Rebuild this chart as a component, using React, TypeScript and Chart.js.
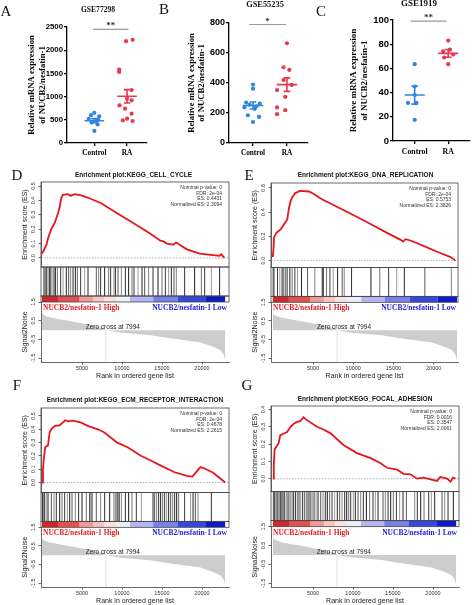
import React, { useEffect, useRef } from 'react';
import { Chart, registerables } from 'chart.js';

Chart.register(...registerables);

const SERIF = "'Liberation Serif', 'Times New Roman', serif";
const SANS = "'Liberation Sans', Arial, sans-serif";

// ================= Panels A–C : relative expression =================
const groups = ['Control', 'RA'];

const titleA = 'GSE77298';
const ctrlA = [650, 600, 575, 520, 505, 470, 440, 400, 260];
const ctrlAJit = [0, -0.1, 0.15, -0.17, 0.12, 0.05, -0.08, 0.1, 0];
const raA = [2225, 2195, 1580, 1530, 1140, 955, 920, 810, 740, 632, 524, 489, 474];
const raAJit = [0.17, -0.03, -0.24, -0.24, 0.14, 0, 0.14, -0.23, -0.06, 0.14, 0, -0.13, 0.17];
const meanA = [480, 1006];
const semA = [45, 144];
const yTicksA = [0, 500, 1000, 1500, 2000, 2500];
const sigA = '**';
const sigYA = 2450;
const sigSpanA = [0.96, 2.04];

const titleB = 'GSE55235';
const ctrlB = [390, 362, 270, 262, 255, 245, 238, 228, 185, 174, 140];
const ctrlBJit = [0, 0, -0.2, 0.2, -0.1, 0.1, -0.25, 0.05, -0.15, 0.18, 0];
const raB = [665, 505, 487, 420, 387, 353, 308, 237, 219, 192];
const raBJit = [0, -0.1, 0.07, -0.1, 0.14, -0.29, -0.05, -0.29, -0.05, -0.29];
const meanB = [250, 389];
const semB = [23, 45];
const yTicksB = [0, 200, 400, 600, 800];
const sigB = '*';
const sigYB = 790;
const sigSpanB = [0.89, 1.97];

const titleC = 'GSE1919';
const ctrlC = [63.5, 45, 38, 31.5, 31.5, 17.5];
const ctrlCJit = [0, 0, 0, -0.2, 0.05, 0];
const raC = [83, 75.5, 74, 71.5, 69, 63.5];
const raCJit = [0, 0.05, -0.15, 0.15, -0.12, 0];
const meanC = [38, 72.4];
const semC = [7.5, 3.2];
const yTicksC = [0, 20, 40, 60, 80, 100];
const sigC = '**';
const sigYC = 99;
const sigSpanC = [0.88, 1.94];

const yTitleLines = ['Relative mRNA expression', 'of NUCB2/nesfatin-1'];

// ================= Panels D–G : GSEA =================
const zeroCross = 7994;
const rankTicks = [5000, 10000, 15000, 20000];
const rankMetricTicks = [1.5, 0.5, -0.5, -1.5];
const rankMetricRange = [-1.7, 1.5];

// ranked list metric (Signal2Noise), shared by all four plots
const rankPos = [0, 200, 500, 1000, 2000, 3000, 4000, 5000, 6000, 7000, 7700, 7994, 10000, 13600, 15600, 17700, 19800, 21400, 22300, 22700, 22900];
const rankMetric = [0.9, 0.82, 0.75, 0.68, 0.6, 0.53, 0.45, 0.36, 0.28, 0.18, 0.1, 0, -0.14, -0.27, -0.41, -0.53, -0.66, -0.89, -1.07, -1.3, -1.6];

// colour bar of the ranked list
const barEdges = [0, 2000, 4700, 6400, 7800, 9300, 11000, 13900, 17000, 20500, 22900];
const barColors = ['#d0262c', '#e45050', '#f09a9a', '#f7c4c4', '#fbe2e2', '#eeeef8', '#b4b8f2', '#7880ea', '#3846e0', '#0c1cc8'];

const highLabel = 'NUCB2/nesfatin-1 High';
const lowLabel = 'NUCB2/nesfatin-1 Low';

const titleD = 'Enrichment plot:KEGG_CELL_CYCLE';
const esRankD = [0, 200, 550, 750, 1150, 1600, 2000, 2200, 2400, 2600, 3200, 3600, 4100, 4900, 5700, 7400, 9400, 11500, 13500, 14800, 15200, 15600, 16400, 16800, 17300, 18100, 19700, 21400, 22200, 22400, 22800];
const esD = [0.03, 0.05, 0.09, 0.135, 0.2, 0.245, 0.31, 0.35, 0.415, 0.438, 0.443, 0.433, 0.443, 0.435, 0.42, 0.38, 0.31, 0.24, 0.17, 0.12, 0.115, 0.1, 0.093, 0.107, 0.088, 0.06, 0.03, 0.019, 0.014, 0.026, 0.0];
const esTicksD = [0, 0.1, 0.2, 0.3, 0.4, 0.5];
const hitsD = [250, 420, 580, 750, 920, 1080, 1250, 1500, 1670, 1920, 2330, 2630, 3040, 3330, 3580, 3880, 4170, 4420, 4830, 5330, 5750, 6790, 7080, 7330, 7830, 8330, 8580, 9000, 9170, 9500, 9920, 10420, 10830, 11250, 11500, 12000, 12500, 12830, 13330, 13880, 14500, 15000, 15420, 15830, 16170, 16500, 16790, 17830, 19080, 19920, 20330, 21170, 22200];
const statsD = ['Nominal p-value: 0', 'FDR: 2e-04', 'ES: 0.4431', 'Normalized ES: 2.3094'];

const titleE = 'Enrichment plot:KEGG_DNA_REPLICATION';
const esRankE = [0, 100, 150, 450, 1000, 1400, 1800, 2000, 2200, 2400, 2800, 3400, 4500, 5100, 5900, 6300, 7600, 9700, 12200, 14200, 15900, 16200, 16500, 17100, 18800, 20500, 22100, 22700];
const esE = [0.03, 0.11, 0.19, 0.23, 0.26, 0.3, 0.34, 0.43, 0.49, 0.52, 0.557, 0.575, 0.57, 0.55, 0.514, 0.5, 0.457, 0.386, 0.3, 0.229, 0.171, 0.157, 0.177, 0.166, 0.12, 0.071, 0.029, 0.0];
const esTicksE = [0, 0.2, 0.4, 0.6];
const hitsE = [50, 170, 580, 870, 1160, 1370, 1580, 1780, 2120, 2410, 2740, 3070, 3570, 4320, 5230, 6140, 6270, 6680, 7100, 7510, 8050, 8630, 8880, 9790, 12200, 13300, 14400, 15400, 16350, 18900, 22200];
const statsE = ['Nominal p-value: 0', 'FDR: 2e-04', 'ES: 0.5753', 'Normalized ES: 2.3826'];

const titleF = 'Enrichment plot:KEGG_ECM_RECEPTOR_INTERACTION';
const esRankF = [0, 120, 250, 400, 750, 950, 1150, 1600, 2200, 2600, 2900, 3200, 3850, 4900, 5700, 7000, 7800, 9400, 10700, 12300, 13600, 14800, 16500, 18100, 18800, 19800, 20200, 21400, 22900];
const esF = [0.0, 0.1, 0.19, 0.265, 0.28, 0.376, 0.4, 0.426, 0.43, 0.45, 0.468, 0.46, 0.465, 0.45, 0.426, 0.4, 0.376, 0.3, 0.265, 0.203, 0.166, 0.129, 0.079, 0.05, 0.045, 0.116, 0.109, 0.074, 0.0];
const esTicksF = [0, 0.1, 0.2, 0.3, 0.4, 0.5];
const hitsF = [50, 170, 330, 540, 750, 1170, 1500, 1790, 2210, 2500, 2830, 3170, 3460, 3750, 4170, 4580, 5000, 5540, 5960, 6080, 6250, 6790, 7330, 7830, 8460, 9000, 9250, 9380, 9500, 9670, 9920, 10420, 10830, 11250, 11790, 12420, 13880, 14080, 14330, 14580, 14830, 15080, 15330, 15580, 15830, 16080, 16330, 16580, 16830, 17080, 17830, 18580, 18880, 19170, 19500, 21170];
const statsF = ['Nominal p-value: 0', 'FDR: 2e-04', 'ES: 0.4678', 'Normalized ES: 2.2615'];

const titleG = 'Enrichment plot:KEGG_FOCAL_ADHESION';
const esRankG = [0, 100, 200, 300, 700, 900, 1300, 1750, 2200, 2600, 3000, 3400, 3800, 4000, 4700, 5500, 6300, 7200, 8800, 10500, 12200, 13400, 14250, 15500, 16300, 17200, 18000, 18800, 19700, 20500, 20900, 21750, 22200, 22500, 22800];
const esG = [0.0, 0.08, 0.167, 0.176, 0.205, 0.25, 0.26, 0.27, 0.3, 0.318, 0.328, 0.332, 0.3547, 0.347, 0.324, 0.3, 0.284, 0.262, 0.195, 0.148, 0.119, 0.091, 0.063, 0.053, 0.028, 0.025, 0.0, 0.006, -0.004, -0.013, 0.01, 0.0, -0.017, 0.006, 0.0];
const esTicksG = [0, 0.1, 0.2, 0.3, 0.4];
const hitsG = [50, 80, 210, 330, 500, 630, 790, 960, 1130, 1290, 1460, 1670, 1880, 2130, 2380, 2540, 2790, 3040, 3250, 3460, 3710, 3960, 4170, 4380, 4630, 4880, 5130, 5380, 5630, 5960, 6250, 6540, 6790, 7080, 7380, 7710, 8040, 8330, 8630, 8960, 9210, 9460, 9710, 10040, 10290, 10630, 10960, 11290, 11670, 12080, 12500, 12790, 13130, 13750, 14040, 14380, 14710, 15040, 15420, 15830, 16250, 16670, 17710, 18040, 18460, 18880, 19460, 19790, 20210, 21130, 21460, 21880, 22540];
const statsG = ['Nominal p-value: 0', 'FDR: 0.0016', 'ES: 0.3547', 'Normalized ES: 2.0061'];

const hitGreys = ['#1c1c1c', '#707070', '#3a3a3a', '#9a9a9a', '#262626', '#585858', '#858585', '#303030'];

// ================= plugins =================
const sigPlugin = {
  id: 'sigStars',
  afterDatasetsDraw(chart: any, _a: any, o: any) {
    const { ctx, scales } = chart;
    ctx.save();
    ctx.font = `bold ${o.size}px ${SERIF}`;
    ctx.fillStyle = '#333';
    ctx.textAlign = 'center';
    ctx.textBaseline = 'alphabetic';
    ctx.fillText(o.text, scales.x.getPixelForValue(o.x), scales.y.getPixelForValue(o.y) - 1);
    ctx.restore();
  },
};

const rotTicksPlugin = {
  id: 'rotTicks',
  afterDraw(chart: any, _a: any, o: any) {
    const ctx = chart.ctx;
    ctx.save();
    ctx.font = `${o.size}px ${SANS}`;
    ctx.fillStyle = o.color;
    ctx.textAlign = 'center';
    ctx.textBaseline = 'middle';
    for (const id of o.ids) {
      const sc = chart.scales[id];
      if (!sc) continue;
      for (const t of sc.ticks) {
        ctx.save();
        ctx.translate(sc.right - o.offset, sc.getPixelForValue(t.value));
        ctx.rotate(-Math.PI / 2);
        ctx.fillText(Number(t.value).toFixed(1), 0, 0);
        ctx.restore();
      }
    }
    ctx.restore();
  },
};

const framesPlugin = {
  id: 'frames',
  afterDatasetsDraw(chart: any, _a: any, o: any) {
    const { ctx, chartArea: ca } = chart;
    ctx.save();
    ctx.strokeStyle = o.color;
    ctx.lineWidth = o.width;
    for (const id of o.ids) {
      const sc = chart.scales[id];
      if (!sc) continue;
      ctx.strokeRect(ca.left, sc.top, ca.right - ca.left, sc.bottom - sc.top);
    }
    ctx.restore();
  },
};

const gseaTextPlugin = {
  id: 'gseaText',
  afterDatasetsDraw(chart: any, _a: any, o: any) {
    const { ctx, chartArea: ca, scales } = chart;
    const es = scales.yES;
    const rk = scales.yRank;
    const x = scales.x;
    ctx.save();
    ctx.font = `5px ${SANS}`;
    ctx.fillStyle = '#333';
    ctx.textAlign = 'right';
    ctx.textBaseline = 'middle';
    o.stats.forEach((line: string, i: number) => ctx.fillText(line, ca.right - 7, es.top + 5.5 + i * 5.7));
    ctx.font = `bold 7.5px ${SERIF}`;
    ctx.textAlign = 'left';
    ctx.fillStyle = '#e32028';
    ctx.fillText(highLabel, ca.left + 2, rk.getPixelForValue(1.18));
    ctx.textAlign = 'right';
    ctx.fillStyle = '#2323d6';
    ctx.fillText(lowLabel, ca.right - 2, rk.getPixelForValue(1.18));
    ctx.font = `6.5px ${SANS}`;
    ctx.textAlign = 'center';
    ctx.fillStyle = '#222';
    ctx.fillText(`Zero cross at ${zeroCross}`, x.getPixelForValue(8850), rk.getPixelForValue(0.15));
    ctx.restore();
  },
};

// ================= config builders =================
const BLUE = '#2f86e0';
const RED = '#e8394f';

function scatterConfig(s: any): any {
  const meanBar = (i: number) => {
    const x = i + 1;
    const m = s.mean[i];
    const e = s.sem[i];
    return [
      { x: x - 0.3, y: m }, { x: x + 0.3, y: m }, { x, y: null },
      { x, y: m - e }, { x, y: m + e }, { x, y: null },
      { x: x - 0.1, y: m + e }, { x: x + 0.1, y: m + e }, { x, y: null },
      { x: x - 0.1, y: m - e }, { x: x + 0.1, y: m - e },
    ];
  };
  const pts = (vals: number[], jit: number[], g: number) => vals.map((v, i) => ({ x: g + jit[i], y: v }));
  const lineDs = (data: any[], color: string, w: number) => ({
    type: 'line', data, borderColor: color, borderWidth: w, pointRadius: 0, spanGaps: false, fill: false,
    tension: 0, clip: false, xAxisID: 'x', yAxisID: 'y',
  });
  return {
    type: 'scatter',
    data: {
      datasets: [
        { type: 'scatter', data: pts(s.ctrl, s.ctrlJit, 1), backgroundColor: BLUE, borderWidth: 0, pointRadius: 2.1, xAxisID: 'x', yAxisID: 'y' },
        { type: 'scatter', data: pts(s.ra, s.raJit, 2), backgroundColor: RED, borderWidth: 0, pointRadius: 2.1, xAxisID: 'x', yAxisID: 'y' },
        lineDs(meanBar(0), BLUE, 1.6),
        lineDs(meanBar(1), RED, 1.6),
        lineDs([{ x: s.sigSpan[0], y: s.sigY }, { x: s.sigSpan[1], y: s.sigY }], '#9a9a9a', 1.2),
      ],
    },
    options: {
      responsive: false,
      animation: false,
      events: [],
      layout: { padding: { left: 0, top: s.area.top, right: s.width - s.area.right, bottom: 0 } },
      plugins: {
        legend: { display: false },
        tooltip: { enabled: false },
        sigStars: { text: s.sig, x: (s.sigSpan[0] + s.sigSpan[1]) / 2, y: s.sigY, size: 9 },
      },
      scales: {
        x: {
          type: 'linear', position: 'bottom', min: s.xRange[0], max: s.xRange[1], offset: false,
          afterBuildTicks: (sc: any) => { sc.ticks = groups.map((_, i) => ({ value: i + 1 })); },
          ticks: {
            callback: (v: number) => groups[v - 1] ?? '',
            font: { family: SERIF, weight: 'bold', size: s.labelSize }, color: '#000',
            padding: 3, maxRotation: 0, autoSkip: false,
          },
          grid: { display: true, drawOnChartArea: false, drawTicks: true, tickLength: 3, color: '#000', lineWidth: 1.3, offset: false },
          border: { display: true, color: '#000', width: 1.3 },
          afterFit: (sc: any) => { sc.height = s.height - s.area.bottom; },
        },
        y: {
          type: 'linear', position: 'left',
          min: s.yTicks[0], max: s.yTicks[s.yTicks.length - 1],
          afterBuildTicks: (sc: any) => { sc.ticks = s.yTicks.map((v: number) => ({ value: v })); },
          ticks: {
            callback: (v: number) => String(v),
            font: { family: SANS, weight: 'bold', size: s.tickSize }, color: '#000', padding: 1,
          },
          grid: { display: true, drawOnChartArea: false, drawTicks: true, tickLength: 3, color: '#000', lineWidth: 1.3 },
          border: { display: true, color: '#000', width: 1.3 },
          title: {
            display: true, text: yTitleLines, color: '#000',
            font: { family: SERIF, weight: 'bold', size: s.titleSize, lineHeight: 1.2 },
            padding: { top: s.titlePad, bottom: 0 },
          },
          afterFit: (sc: any) => { sc.width = s.area.left; },
        },
      },
    },
    plugins: [sigPlugin],
  };
}

function gseaConfig(g: any): any {
  const yw = g.area.left;
  const fixW = (sc: any) => { sc.width = yw; };
  const tickList = (arr: number[]) => (sc: any) => { sc.ticks = arr.map((v) => ({ value: v })); };
  const axisCol = '#444';
  const titleFont = { family: SANS, size: 7 };
  const hidden = (weight: number) => ({
    type: 'linear', axis: 'y', position: 'left', stack: 'gsea', stackWeight: weight, min: 0, max: 1,
    ticks: { display: false }, grid: { display: false }, border: { display: false }, afterFit: fixW,
  });
  return {
    type: 'line',
    data: {
      datasets: [
        {
          data: g.esRank.map((r: number, i: number) => ({ x: r, y: g.es[i] })), xAxisID: 'x', yAxisID: 'yES',
          borderColor: '#e8141c', borderWidth: 1.8, pointRadius: 0, tension: 0, fill: false,
        },
        {
          data: [{ x: g.xRange[0], y: 0 }, { x: g.xRange[1], y: 0 }], xAxisID: 'x', yAxisID: 'yES',
          borderColor: '#9c9c9c', borderWidth: 0.8, borderDash: [1.5, 1.5], pointRadius: 0, fill: false,
        },
        {
          type: 'bar', data: g.hits.map((h: number) => ({ x: h, y: 1 })), xAxisID: 'x', yAxisID: 'yHits',
          barThickness: 1, inflateAmount: 0, borderWidth: 0,
          backgroundColor: (c: any) => hitGreys[c.dataIndex % hitGreys.length],
        },
        {
          data: barEdges.map((e) => ({ x: e, y: 0.5 })), xAxisID: 'x', yAxisID: 'yBar',
          borderWidth: (c: any) => (c.chart.scales.yBar ? c.chart.scales.yBar.height : 6),
          borderCapStyle: 'butt', pointRadius: 0, fill: false, tension: 0,
          segment: { borderColor: (c: any) => barColors[c.p0DataIndex] },
        },
        {
          data: rankPos.map((r, i) => ({ x: r, y: rankMetric[i] })), xAxisID: 'x', yAxisID: 'yRank',
          borderWidth: 0, borderColor: 'rgba(0,0,0,0)', backgroundColor: '#cdcdcd', fill: 'origin', pointRadius: 0, tension: 0,
        },
        {
          data: [{ x: zeroCross, y: rankMetricRange[0] }, { x: zeroCross, y: 0 }], xAxisID: 'x', yAxisID: 'yRank',
          borderColor: '#dadada', borderWidth: 0.8, pointRadius: 0, fill: false,
        },
      ],
    },
    options: {
      responsive: false,
      animation: false,
      events: [],
      layout: { padding: { left: 0, top: g.area.top, right: g.width - g.area.right, bottom: 0 } },
      plugins: {
        legend: { display: false },
        tooltip: { enabled: false },
        rotTicks: { ids: ['yES', 'yRank'], offset: 7.5, size: 5.5, color: '#333' },
        frames: { ids: ['yES', 'yHits', 'yBar'], color: axisCol, width: 0.8 },
        gseaText: { stats: g.stats },
      },
      scales: {
        x: {
          type: 'linear', axis: 'x', position: 'bottom', min: g.xRange[0], max: g.xRange[1], offset: false,
          afterBuildTicks: tickList(rankTicks),
          ticks: {
            callback: (v: number) => String(v), font: { family: SANS, size: 5.5 }, color: '#333',
            padding: 0.5, maxRotation: 0, autoSkip: false,
          },
          grid: { display: true, drawOnChartArea: false, drawTicks: true, tickLength: 2.5, color: axisCol, lineWidth: 0.8, offset: false },
          border: { display: true, color: axisCol, width: 0.8 },
          title: { display: true, text: 'Rank in ordered gene list', font: titleFont, color: '#222', padding: { top: 0, bottom: g.xTitlePad } },
          afterFit: (sc: any) => { sc.height = g.height - g.area.bottom; },
        },
        yRank: {
          type: 'linear', axis: 'y', position: 'left', stack: 'gsea', stackWeight: 60,
          min: rankMetricRange[0], max: rankMetricRange[1],
          afterBuildTicks: tickList(rankMetricTicks),
          ticks: { display: false },
          grid: { display: true, drawOnChartArea: false, drawTicks: true, tickLength: 2.5, color: axisCol, lineWidth: 0.8 },
          border: { display: true, color: axisCol, width: 0.8 },
          title: { display: true, text: 'Signal2Noise', font: titleFont, color: '#222', padding: { top: g.titlePad, bottom: 0 } },
          afterFit: fixW,
        },
        yBar: hidden(6),
        yHits: hidden(29),
        yES: {
          type: 'linear', axis: 'y', position: 'left', stack: 'gsea', stackWeight: 85,
          min: g.esRange[0], max: g.esRange[1],
          afterBuildTicks: tickList(g.esTicks),
          ticks: { display: false },
          grid: { display: true, drawOnChartArea: false, drawTicks: true, tickLength: 2.5, color: axisCol, lineWidth: 0.8 },
          border: { display: true, color: axisCol, width: 0.8 },
          title: { display: true, text: 'Enrichment score (ES)', font: titleFont, color: '#222', padding: { top: g.titlePad, bottom: 0 } },
          afterFit: fixW,
        },
      },
    },
    plugins: [rotTicksPlugin, framesPlugin, gseaTextPlugin],
  };
}

// ================= panel specs =================
const scatterSpecs = [
  {
    key: 'A', left: 0, top: 0, width: 158, height: 165, area: { left: 67, right: 147, top: 27, bottom: 143 },
    xRange: [0.165, 2.61], ctrl: ctrlA, ctrlJit: ctrlAJit, ra: raA, raJit: raAJit, mean: meanA, sem: semA,
    yTicks: yTicksA, sig: sigA, sigY: sigYA, sigSpan: sigSpanA, tickSize: 7.8, labelSize: 7.3, titleSize: 8.7, titlePad: 26.8,
  },
  {
    key: 'B', left: 158, top: 0, width: 158, height: 165, area: { left: 71, right: 150, top: 23, bottom: 143 },
    xRange: [0.294, 2.62], ctrl: ctrlB, ctrlJit: ctrlBJit, ra: raB, raJit: raBJit, mean: meanB, sem: semB,
    yTicks: yTicksB, sig: sigB, sigY: sigYB, sigSpan: sigSpanB, tickSize: 9, labelSize: 7.3, titleSize: 8.7, titlePad: 28.3,
  },
  {
    key: 'C', left: 316, top: 0, width: 158, height: 165, area: { left: 77, right: 155, top: 20, bottom: 141 },
    xRange: [0.353, 2.65], ctrl: ctrlC, ctrlJit: ctrlCJit, ra: raC, raJit: raCJit, mean: meanC, sem: semC,
    yTicks: yTicksC, sig: sigC, sigY: sigYC, sigSpan: sigSpanC, tickSize: 9.5, labelSize: 7.8, titleSize: 9, titlePad: 32.6,
  },
];

const gseaSpecs = [
  {
    key: 'D', left: 0, top: 165, width: 237, height: 220, area: { left: 41, right: 229, top: 17, bottom: 197 },
    xRange: [-125, 23375], esRank: esRankD, es: esD, esTicks: esTicksD, esRange: [-0.063, 0.528], hits: hitsD,
    stats: statsD, titlePad: 20.8, xTitlePad: 4.8,
  },
  {
    key: 'E', left: 237, top: 165, width: 237, height: 220, area: { left: 34, right: 221, top: 18, bottom: 197 },
    xRange: [-224, 23023], esRank: esRankE, es: esE, esTicks: esTicksE, esRange: [-0.057, 0.64], hits: hitsE,
    stats: statsE, titlePad: 14, xTitlePad: 4.8,
  },
  {
    key: 'F', left: 0, top: 385, width: 237, height: 220, area: { left: 41, right: 229, top: 23, bottom: 202 },
    xRange: [-125, 23375], esRank: esRankF, es: esF, esTicks: esTicksF, esRange: [-0.075, 0.56], hits: hitsF,
    stats: statsF, titlePad: 20.8, xTitlePad: 0,
  },
  {
    key: 'G', left: 237, top: 385, width: 237, height: 220, area: { left: 34, right: 222, top: 21, bottom: 202 },
    xRange: [-250, 23250], esRank: esRankG, es: esG, esTicks: esTicksG, esRange: [-0.074, 0.42], hits: hitsG,
    stats: statsG, titlePad: 14, xTitlePad: 0,
  },
];

const panelLetters = [
  { t: 'A', x: 6, y: 11 }, { t: 'B', x: 164, y: 9 }, { t: 'C', x: 321, y: 11 },
  { t: 'D', x: 17, y: 175 }, { t: 'E', x: 249, y: 175 }, { t: 'F', x: 17, y: 385 }, { t: 'G', x: 247, y: 385 },
];

const panelTitles = [
  { t: titleA, x: 98, y: 9.5, size: 7.6, serif: true },
  { t: titleB, x: 265, y: 4.5, size: 8.4, serif: true },
  { t: titleC, x: 419, y: 3, size: 9, serif: true },
  { t: titleD, x: 133.5, y: 175, size: 6.5, serif: false },
  { t: titleE, x: 365.5, y: 175, size: 6.5, serif: false },
  { t: titleF, x: 135, y: 400, size: 6.5, serif: false },
  { t: titleG, x: 365, y: 399, size: 6.5, serif: false },
];

// ================= components =================
function ChartCanvas({ left, top, width, height, make }: any) {
  const ref = useRef<HTMLCanvasElement>(null);
  useEffect(() => {
    const chart = new Chart(ref.current as HTMLCanvasElement, make());
    return () => chart.destroy();
  }, []);
  return (
    <canvas
      ref={ref}
      width={width}
      height={height}
      style={{ position: 'absolute', left, top, width, height }}
    />
  );
}

export default function App() {
  return (
    <div style={{ position: 'absolute', left: 0, top: 0, width: 474, height: 605, background: '#fff', overflow: 'hidden' }}>
      {scatterSpecs.map((s) => (
        <ChartCanvas key={s.key} left={s.left} top={s.top} width={s.width} height={s.height} make={() => scatterConfig(s)} />
      ))}
      {gseaSpecs.map((g) => (
        <ChartCanvas key={g.key} left={g.left} top={g.top} width={g.width} height={g.height} make={() => gseaConfig(g)} />
      ))}
      {panelTitles.map((p) => (
        <div
          key={p.t}
          style={{
            position: 'absolute', left: p.x, top: p.y, transform: 'translate(-50%, -50%)', whiteSpace: 'nowrap',
            fontFamily: p.serif ? SERIF : SANS, fontWeight: 'bold', fontSize: p.size, lineHeight: 1, color: '#111',
          }}
        >
          {p.t}
        </div>
      ))}
      {panelLetters.map((p) => (
        <div
          key={p.t}
          style={{
            position: 'absolute', left: p.x, top: p.y, transform: 'translate(-50%, -50%)',
            fontFamily: SERIF, fontSize: 15, lineHeight: 1, color: '#111',
          }}
        >
          {p.t}
        </div>
      ))}
    </div>
  );
}
